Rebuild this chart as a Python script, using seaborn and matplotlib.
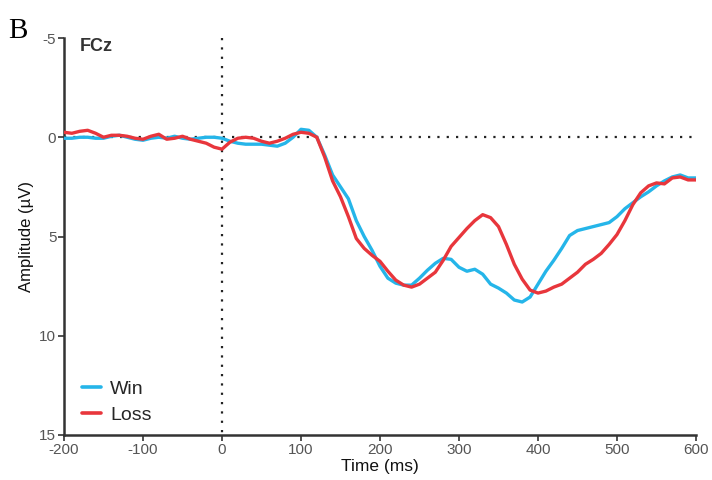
import numpy as np
import pandas as pd
import matplotlib
matplotlib.use("Agg")
import matplotlib.pyplot as plt
import seaborn as sns

# Grand-average ERP at FCz, sampled every 10 ms (amplitude in µV)
time_ms = list(range(-200, 601, 10))

win_uv = [
    0.05, 0.05, 0.0, 0.0, 0.05, 0.05, -0.05, -0.1, 0.0, 0.1,
    0.15, 0.05, 0.0, 0.05, -0.05, 0.05, 0.1, 0.05, 0.0, 0.0,
    0.05, 0.2, 0.3, 0.35, 0.35, 0.35, 0.4, 0.45, 0.3, 0.0,
    -0.4, -0.35, 0.0, 0.9, 1.9, 2.5, 3.1, 4.2, 5.0, 5.7,
    6.5, 7.1, 7.35, 7.45, 7.45, 7.1, 6.7, 6.35, 6.1, 6.15,
    6.55, 6.75, 6.65, 6.9, 7.4, 7.6, 7.85, 8.2, 8.3, 8.05,
    7.4, 6.75, 6.2, 5.6, 4.95, 4.7, 4.6, 4.5, 4.4, 4.3,
    4.0, 3.6, 3.3, 3.0, 2.75, 2.45, 2.2, 2.0, 1.9, 2.05,
    2.05,
]

loss_uv = [
    -0.25, -0.2, -0.3, -0.35, -0.2, 0.0, -0.1, -0.1, -0.05, 0.05,
    0.1, -0.05, -0.15, 0.1, 0.05, -0.05, 0.1, 0.2, 0.3, 0.5,
    0.6, 0.25, 0.05, 0.0, 0.05, 0.2, 0.3, 0.2, 0.05, -0.15,
    -0.25, -0.2, 0.0, 1.0, 2.2, 3.0, 4.0, 5.1, 5.6, 5.95,
    6.25, 6.75, 7.2, 7.45, 7.55, 7.4, 7.1, 6.8, 6.2, 5.5,
    5.05, 4.6, 4.2, 3.9, 4.05, 4.5, 5.4, 6.4, 7.15, 7.7,
    7.85, 7.75, 7.55, 7.4, 7.1, 6.8, 6.4, 6.15, 5.85, 5.4,
    4.9, 4.2, 3.4, 2.8, 2.45, 2.3, 2.35, 2.05, 2.0, 2.15,
    2.15,
]

conditions = ["Win", "Loss"]
x_ticks = [-200, -100, 0, 100, 200, 300, 400, 500, 600]
y_ticks = [-5, 0, 5, 10, 15]

df = pd.DataFrame({
    "Time (ms)": time_ms * 2,
    "Amplitude": win_uv + loss_uv,
    "Condition": [conditions[0]] * len(time_ms) + [conditions[1]] * len(time_ms),
})

sns.set_theme(style="ticks")
plt.rcParams["font.family"] = ["Liberation Sans", "DejaVu Sans"]

fig = plt.figure(figsize=(7.12, 4.8), dpi=100)
ax = fig.add_axes([64 / 712, 1 - 435 / 480, (696 - 64) / 712, (435 - 38) / 480])

# reference lines at stimulus onset and zero amplitude
ax.plot([-200, 600], [0, 0], color="#222222", lw=1.6, ls=(0, (1, 3.2)), zorder=1)
ax.plot([0, 0], [-5, 15], color="#222222", lw=1.6, ls=(0, (1, 3.2)), zorder=1)

sns.lineplot(
    data=df, x="Time (ms)", y="Amplitude", hue="Condition",
    hue_order=conditions, palette=["#25B5E9", "#E8363C"],
    linewidth=2.4, ax=ax, zorder=3,
)

ax.set_xlim(-200, 600)
ax.set_ylim(15, -5)
ax.set_xticks(x_ticks)
ax.set_xticklabels([str(t) for t in x_ticks])
ax.set_yticks(y_ticks)
ax.set_yticklabels([str(t) for t in y_ticks])

for side in ["top", "right"]:
    ax.spines[side].set_visible(False)
for side in ["left", "bottom"]:
    ax.spines[side].set_color("#333333")
    ax.spines[side].set_linewidth(1.8)

ax.tick_params(axis="both", direction="out", length=4, width=1.2,
               color="#333333", labelsize=11, labelcolor="#555555", pad=1.5)

ax.set_xlabel("Time (ms)", fontsize=12.5, color="#111111", labelpad=2)
ax.set_ylabel("Amplitude (\u00b5V)", fontsize=12, color="#111111", labelpad=4)

ax.text(-180, -4.55, "FCz", fontsize=13, fontweight="bold", color="#333333",
        va="center", ha="left")
fig.text(8 / 712, 1 - 31 / 480, "B", fontsize=21, family="Liberation Serif",
         color="#000000", va="center", ha="left")

leg = ax.legend(loc="lower left", bbox_to_anchor=(0.007, -0.007), frameon=False,
                fontsize=14, handlelength=1.0, handletextpad=0.45,
                labelspacing=0.45, borderaxespad=0.3)
for line in leg.get_lines():
    line.set_linewidth(2.6)

fig.savefig("out.png", dpi=100)
